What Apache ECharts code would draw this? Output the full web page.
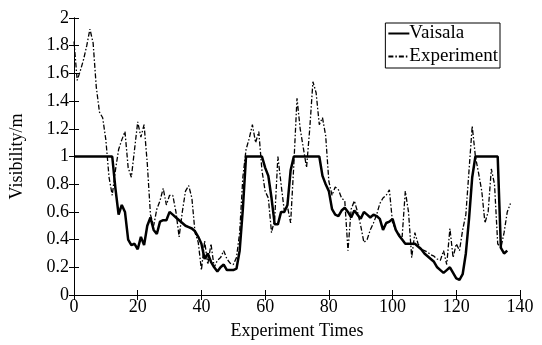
<!DOCTYPE html>
<html>
<head>
<meta charset="utf-8">
<script src="https://cdn.jsdelivr.net/npm/echarts@6/dist/echarts.min.js"></script>
<style>
html,body{margin:0;padding:0;background:#fff;}
#main{width:542px;height:345px;}
</style>
</head>
<body>
<div id="main"></div>
<script>
// experiment index 0..137
var vaisala = [1,1,1,1,1,1,1,1,1,1,1,1,1,0.77,0.58,0.65,0.60,0.40,0.36,0.37,
  0.33,0.42,0.36,0.50,0.56,0.47,0.44,0.53,0.54,0.54,0.60,0.58,0.56,0.54,0.52,0.50,0.49,0.48,0.46,0.42,
  0.37,0.26,0.30,0.24,0.20,0.17,0.20,0.22,0.18,0.18,0.18,0.19,0.32,0.62,1,1,1,1,1,1,
  0.92,0.86,0.70,0.51,0.51,0.60,0.60,0.65,0.90,1,1,1,1,1,1,1,1,1,0.86,0.80,
  0.75,0.62,0.58,0.57,0.61,0.63,0.60,0.56,0.61,0.58,0.55,0.60,0.58,0.56,0.58,0.57,0.55,0.47,0.52,0.53,
  0.55,0.47,0.43,0.40,0.37,0.37,0.37,0.37,0.35,0.33,0.30,0.28,0.26,0.24,0.20,0.18,0.16,0.18,0.20,0.16,
  0.12,0.11,0.15,0.30,0.55,0.85,1,1,1,1,1,1,1,1,0.34,0.30,0.32];
var experiment = [1.83,1.55,1.62,1.70,1.80,1.92,1.82,1.50,1.32,1.28,1.12,0.85,0.72,0.90,1.05,1.12,1.18,0.92,0.85,1.05,
  1.25,1.14,1.23,0.95,0.58,0.50,0.62,0.68,0.77,0.65,0.72,0.72,0.60,0.42,0.60,0.75,0.79,0.70,0.45,0.38,
  0.18,0.39,0.22,0.37,0.20,0.25,0.27,0.32,0.26,0.23,0.22,0.27,0.45,0.85,1.05,1.13,1.23,1.10,1.18,0.90,
  0.75,0.70,0.45,0.55,1.00,0.80,0.61,0.64,0.52,0.94,1.42,1.20,1.06,0.92,1.20,1.54,1.46,1.23,1.28,1.15,
  0.82,0.72,0.78,0.76,0.70,0.68,0.32,0.62,0.68,0.60,0.50,0.38,0.40,0.47,0.52,0.58,0.66,0.70,0.72,0.76,
  0.52,0.47,0.44,0.42,0.75,0.60,0.27,0.45,0.37,0.33,0.32,0.31,0.29,0.28,0.26,0.25,0.32,0.22,0.48,0.27,
  0.37,0.32,0.47,0.58,0.90,1.22,1.00,0.88,0.75,0.52,0.60,0.91,0.80,0.37,0.34,0.45,0.60,0.66];
var seriesNames = ['Vaisala','Experiment'];

function pairs(arr){
  var out = [];
  for (var i = 0; i < arr.length; i++) out.push([i, arr[i]]);
  return out;
}

var font = 'Liberation Serif';
var myChart = echarts.init(document.getElementById('main'));
var tickStyle = {inside: true, length: 5, lineStyle: {color: '#000'}};
var lineAx = {lineStyle: {color: '#000', width: 1}};

option = {
  backgroundColor: '#fff',
  animation: false,
  grid: {left: 72, right: 22, top: 18, bottom: 47},
  legend: {
    data: seriesNames,
    orient: 'vertical',
    right: 42,
    top: 23,
    itemWidth: 21,
    itemHeight: 8,
    itemGap: 4,
    padding: [1, 2, 2, 2],
    borderColor: '#000',
    borderWidth: 1,
    borderRadius: 0,
    backgroundColor: '#fff',
    itemStyle: {opacity: 0},
    textStyle: {fontFamily: font, fontSize: 19, color: '#000', padding: [0, 0, 0, -5]}
  },
  xAxis: [
    {
      type: 'value', min: 0, max: 140, interval: 20,
      name: 'Experiment Times', nameLocation: 'middle', nameGap: 27,
      nameTextStyle: {fontFamily: font, fontSize: 18, color: '#000'},
      axisLine: lineAx, axisTick: tickStyle, splitLine: {show: false},
      axisLabel: {fontFamily: font, fontSize: 18, color: '#000', margin: 3}
    },
    {
      type: 'value', position: 'top', min: 0, max: 140, interval: 20,
      axisLine: lineAx, axisTick: tickStyle, splitLine: {show: false},
      axisLabel: {show: false}
    }
  ],
  yAxis: [
    {
      type: 'value', min: 0, max: 2, interval: 0.2,
      name: 'Visibility/m', nameLocation: 'middle', nameGap: 48,
      nameTextStyle: {fontFamily: font, fontSize: 18, color: '#000'},
      axisLine: lineAx, axisTick: tickStyle, splitLine: {show: false},
      axisLabel: {fontFamily: font, fontSize: 18, color: '#000', margin: 5}
    },
    {
      type: 'value', position: 'right', min: 0, max: 2, interval: 0.2,
      axisLine: lineAx, axisTick: tickStyle, splitLine: {show: false},
      axisLabel: {show: false}
    }
  ],
  series: [
    {
      name: seriesNames[0], type: 'line', showSymbol: false, symbol: 'none',
      data: pairs(vaisala),
      itemStyle: {color: '#000'},
      lineStyle: {color: '#000', width: 2.5}
    },
    {
      name: seriesNames[1], type: 'line', showSymbol: false, symbol: 'none',
      data: pairs(experiment),
      itemStyle: {color: '#000'},
      lineStyle: {color: '#000', width: 1.3, type: [5, 2, 1.5, 2]}
    }
  ]
};
myChart.setOption(option);
window.addEventListener('resize', function () {
  myChart.resize();
});
</script>
</body>
</html>
